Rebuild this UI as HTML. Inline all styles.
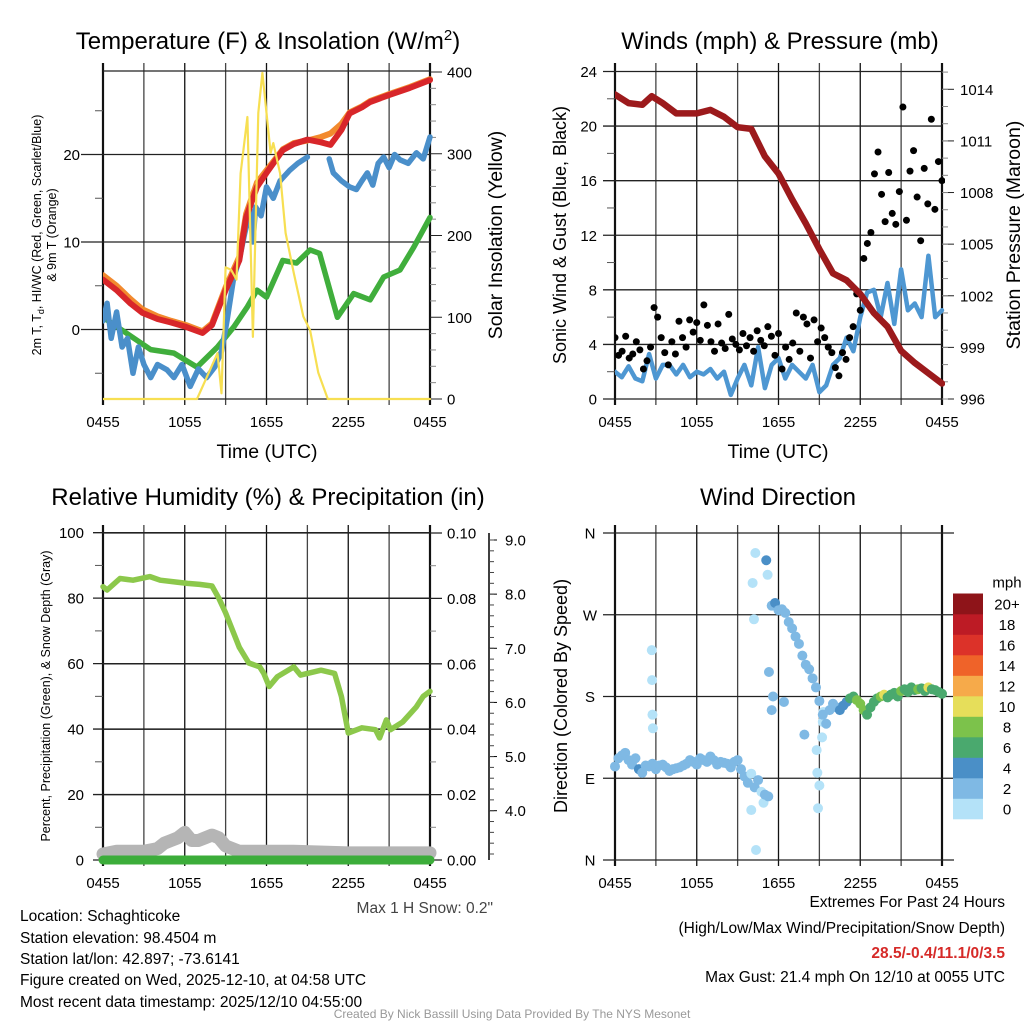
<!DOCTYPE html>
<html><head><meta charset="utf-8"><style>
html,body{margin:0;padding:0;background:#fff;}
svg{display:block;font-family:"Liberation Sans",Arial,sans-serif;}
</style></head><body>
<svg id="c" width="1024" height="1024" viewBox="0 0 1024 1024">
<rect width="1024" height="1024" fill="#fff"/>
<g font-size="24" text-anchor="middle" fill="#000">
<text x="268" y="49">Temperature (F) &amp; Insolation (W/m<tspan dy="-9" font-size="15">2</tspan><tspan dy="9">)</tspan></text>
<text x="780" y="49">Winds (mph) &amp; Pressure (mb)</text>
<text x="268" y="505">Relative Humidity (%) &amp; Precipitation (in)</text>
<text x="778" y="505">Wind Direction</text>
</g>
<g font-size="12.5" text-anchor="middle">
<text transform="translate(41,235) rotate(-90)">2m T, T<tspan dy="3" font-size="9">d</tspan><tspan dy="-3">, HI/WC (Red, Green, Scarlet/Blue)</tspan></text>
<text transform="translate(56,235) rotate(-90)">&amp; 9m T (Orange)</text>
<text transform="translate(50,696) rotate(-90)">Percent, Precipitation (Green), &amp; Snow Depth (Gray)</text>
</g>
<g font-size="19.5" text-anchor="middle">
<text transform="translate(502,235) rotate(-90)">Solar Insolation (Yellow)</text>
<text transform="translate(566,235) rotate(-90)" font-size="18">Sonic Wind &amp; Gust (Blue, Black)</text>
<text transform="translate(1020,235) rotate(-90)">Station Pressure (Maroon)</text>
<text transform="translate(567,696) rotate(-90)" font-size="18">Direction (Colored By Speed)</text>
<text x="267" y="458">Time (UTC)</text>
<text x="778" y="458">Time (UTC)</text>
</g>
<g font-size="15.5" fill="#000">
<text x="20" y="921">Location: Schaghticoke</text>
<text x="20" y="943">Station elevation: 98.4504 m</text>
<text x="20" y="964">Station lat/lon: 42.897; -73.6141</text>
<text x="20" y="985">Figure created on Wed, 2025-12-10, at 04:58 UTC</text>
<text x="20" y="1007">Most recent data timestamp: 2025/12/10 04:55:00</text>
<g text-anchor="end">
<text x="1005" y="907">Extremes For Past 24 Hours</text>
<text x="1005" y="933">(High/Low/Max Wind/Precipitation/Snow Depth)</text>
<text x="1005" y="958" fill="#d62a28" font-weight="bold">28.5/-0.4/11.1/0/3.5</text>
<text x="1005" y="982">Max Gust: 21.4 mph On 12/10 at 0055 UTC</text>
<text x="493" y="913" fill="#444">Max 1 H Snow: 0.2"</text>
</g>
</g>
<text x="512" y="1018" font-size="12" fill="#999" text-anchor="middle">Created By Nick Bassill Using Data Provided By The NYS Mesonet</text>
</svg>
<script>
// ---- data ----
const xTickLabels = ["0455","1055","1655","2255","0455"];
const tempHours = [0,1,2,2.9,4,5,6.1,7.3,8,9,10,10.5,11.3,12,13.2,14,15,16,16.7,17.5,18.1,19,19.6,21,22.5,24];
const tempRed   = [5.7,4.5,3,1.9,1.2,0.8,0.3,-0.4,0.5,4.5,7.9,12.8,16.3,17.9,20.5,21.2,21.7,21.4,21.1,22.8,24.7,25.4,26,26.8,27.6,28.5];
const tempOrange= [6.2,5,3.5,2.3,1.5,1,0.5,-0.2,0.7,4.8,8.3,13.2,16.8,18.2,20.6,21.3,21.6,22,22.4,23.5,24.8,25.5,26.1,26.9,27.7,28.6];
const chillHours = [0,0.3,0.6,1,1.4,1.8,2.2,2.6,3,3.5,4,4.7,5.2,5.8,6.4,7,7.6,8.2,8.7,9.1,9.6,10,10.4,10.8,11,11.2,11.6,12,12.5,13,13.7,14.3,15];
const chillBlue  = [1,3,-1,2,-2,-1,-5,-2,-4,-5.5,-4,-4.6,-5.5,-4,-6.5,-4.5,-5.5,-4.3,-2.5,1,6,8,11,13.6,10,14,13,16.3,15,17,18.2,19,19.7];
const chillHours2 = [16.6,16.9,17.5,18.1,18.6,19,19.4,19.8,20.2,20.6,21,21.4,21.8,22.4,23,23.5,24];
const chillBlue2  = [19.5,17.9,17,16.3,16,17,17.9,16.5,19,19.7,18.5,20,19.4,19,20.2,19.5,22];
const dewHours = [0,1.7,3.5,5.2,6.9,8.4,9.6,10.6,11.3,12,13.2,14.2,15.2,15.9,17.2,18.4,19.6,20.6,21.8,22.8,24];
const dewGreen = [1.4,-0.4,-2.3,-2.7,-4.3,-2,0.3,2.6,4.5,3.7,7.9,7.6,9.1,8.7,1.4,4.1,3.4,6,6.8,9.4,12.8];
const solarHours = [0,6.9,8.4,8.7,9,9.4,9.8,10.1,10.6,11,11.4,11.7,12,12.3,12.5,13,13.4,14,14.7,15.2,15.8,16.5,24];
const solarWm2   = [0,0,56,7,161,158,146,276,345,76,350,399,350,301,313,276,203,154,101,84,32,0,0];
const sonicWind = [2,1.6,2.4,1.5,1.3,3.3,1.5,2.5,2.5,1.8,2.5,1.6,2,1.8,2.2,1.5,2,0.3,1.5,2.5,1,3.8,0.8,2.5,3,1.5,2.5,2,1.5,2.5,0.5,1,2.5,3,4.5,3.5,6,7.8,8,6,8.5,5.5,9.5,6.5,7,6,10.5,6,6.5];
const gusts = [4.5,3.2,3.5,4.6,3,3.3,4.2,3.6,2.2,2.8,3.8,6.7,6,4.5,3.4,2.5,4.2,3.3,5.7,4.5,3.8,5.8,4.9,5.6,4.3,6.9,5.4,4.2,3.5,5.5,4.1,3.7,6.2,4.4,4.0,3.6,4.8,3.9,4.5,3.5,5.0,4.3,3.9,5.3,4.6,3.2,4.8,2.2,3.8,2.9,4.1,6.3,3.5,6.0,5.5,3.0,5.8,4.2,5.2,4.5,3.8,3.4,2.3,1.7,3.4,2.9,4.5,5.3,7.7,6.5,10.3,11.4,12.2,16.5,18.1,15.0,13.0,16.6,13.6,12.8,15.2,21.4,13.1,16.7,18.2,14.8,11.6,16.9,14.3,20.5,13.9,17.4,16.0];
const presHours = [0,1,2,2.7,3.5,4.5,5.5,6,7,8,9,10,11,12,13,14,15,16,17,18,19,20,21,22,23,24];
const pressure  = [1013.7,1013.2,1013.1,1013.6,1013.2,1012.6,1012.6,1012.6,1012.8,1012.4,1011.8,1011.7,1010.1,1009.1,1007.6,1006.2,1004.7,1003.3,1002.9,1002.1,1001,1000.2,998.8,998.1,997.5,996.9];
const rhHours = [0,0.3,1.25,2.2,3.45,4.2,5.4,6.2,7.1,8,8.5,9,10,10.7,11.5,11.8,12.2,12.8,14,14.5,16,17,17.5,18,19,20,20.3,20.8,21.1,22,23,23.5,24];
const rhPct   = [83.5,82.5,86,85.5,86.6,85.5,84.9,84.5,84.2,83.7,80,75.5,65,60.2,59,57,53,56,59,56.5,58,57,50,38.8,40.4,39.8,37.3,42.8,39.8,42.2,46.8,50,51.5];
const snowHours = [0,1,2,3,4,4.5,5,5.5,6,6.5,7,7.5,8,8.5,9,10,14,18,24];
const snowDepth = [3.2,3.25,3.25,3.25,3.3,3.4,3.45,3.5,3.6,3.45,3.45,3.5,3.55,3.5,3.35,3.25,3.25,3.22,3.22];
const precip = [0,0];
const dirs = [103,112,115,118,110,105,112,100,96,104,103,106,100,104,105,102,98,100,101,102,104,106,110,108,105,112,110,108,114,110,105,108,107,106,102,108,110,100,92,85,95,80,88,75,72,70,280,283,275,276,272,262,255,246,238,225,215,210,200,190,175,160,150,165,172,168,165,170,174,178,180,176,172,165,160,168,174,178,180,182,179,182,184,180,186,188,185,190,187,188,189,186,190,188,187,185,183];
const dirSpeeds = [2.5,2.5,3,2.5,2.5,2.5,2.5,4.5,2.5,2.5,3,2.5,2.5,2.5,2.5,2.5,2.5,2.5,2.5,2.5,3,2.5,2.5,2.5,2.5,3,2.5,2.5,2.5,2.5,3,2.5,2.5,2.5,3,2.5,2.5,2.5,2.5,2.5,1,2.5,2.5,1,2.5,2.5,2.5,4.5,3,2.5,3,2.5,3,2.5,2.5,3,2.5,2.5,2.5,2.5,2.5,3,2.5,2.5,2.5,3,4.5,4.5,4.5,6.5,7,8.5,9,8.5,7,6.5,7,7,8,10,7,6.5,7,7.5,8,7,7,6.5,7,8,7,7,10.5,7,7,6.5,7];
const outHours = [2.7,2.72,2.75,2.78,10.1,10.3,11.1,11.2,10.2,10,10.35,10.9,11.5,11.6,12.4,11.3,13.9,14.8,14.85,14.9,15,15.2,15.25,15.3];
const outDirs  = [231,198,160,145,305,338,330,314,265,55,11,63,165,180,174,207,138,121,96,57,82,135,152,163];
const outSpeeds= [1,1,1,1,1,1,4,1,1,1,1,1,2.5,2.5,2.5,2.5,2.5,1,1,1,1,1,1,1];
const legendLabels = ["0","2","4","6","8","10","12","14","16","18","20+"];
const speedColors = ["#b4e2f8","#7fb9e4","#4a8fc7","#4aa96e","#7cc24b","#e6de5a","#f6aa4a","#ef6329","#dc3229","#bd1b25","#8e1419"];
const dirTickLabels = ["N","E","S","W","N"];

// ---- helpers ----
const NS = "http://www.w3.org/2000/svg";
const svg = document.getElementById("c");
function mk(tag, parent) { const e = document.createElementNS(NS, tag); (parent||svg).appendChild(e); return e; }
function sa(e, k, v) { e.setAttribute(k, v); return e; }
const X0 = {L:103, R:615}, PW = 327;
function xs(panel, h) { return X0[panel] + h / 24 * PW; }
function lin(d0, d1, p0, p1) { return v => p0 + (v - d0) / (d1 - d0) * (p1 - p0); }

function frame(panel, top, bottom, name) {
  const g = mk("g");
  
  
  for (let i = 0; i <= 8; i++) {
    const x = X0[panel] + i * PW / 8;
    const l = mk("line", g); sa(l,"x1",x); sa(l,"x2",x); sa(l,"y1",top-8); sa(l,"y2",bottom+6);
    sa(l,"stroke", i%2 ? "#444" : "#111"); sa(l,"stroke-width", (i===0||i===8)?2.2:1.3);
  }
  for (let i = 0; i < xTickLabels.length; i++) {
    const t = mk("text", g);
    
    
    sa(t,"x", X0[panel] + i*PW/4); sa(t,"y", bottom+28); sa(t,"font-size","15"); sa(t,"text-anchor","middle");
    t.textContent = xTickLabels[i];
  }
  return g;
}
function hgrid(panel, y, extL, extR, g) {
  const l = mk("line", g); sa(l,"x1",X0[panel]-extL); sa(l,"x2",X0[panel]+PW+extR); sa(l,"y1",y); sa(l,"y2",y);
  sa(l,"stroke","#222"); sa(l,"stroke-width",1.3);
}
function ytext(g, x, y, txt, anchor, name, size) {
  const t = mk("text", g);
  
  
  sa(t,"x",x); sa(t,"y",y+5.5); sa(t,"font-size",size||15); sa(t,"text-anchor",anchor); t.textContent = txt;
}
function tick(g, x1, x2, y, col) { const l = mk("line", g); sa(l,"x1",x1); sa(l,"x2",x2); sa(l,"y1",y); sa(l,"y2",y); sa(l,"stroke",col||"#555"); sa(l,"stroke-width",1); }
function path(hours, vals, panel, ys, color, width, name) {
  const p = mk("path");
  
  
  let d = "";
  for (let i = 0; i < vals.length; i++) d += (i ? "L" : "M") + xs(panel, hours[i]).toFixed(1) + "," + ys(vals[i]).toFixed(1);
  sa(p,"d",d); sa(p,"fill","none"); sa(p,"stroke",color); sa(p,"stroke-width",width);
  sa(p,"stroke-linejoin","round"); sa(p,"stroke-linecap","round");
  return p;
}
function clip(id, x, y, w, h) {
  let defs = svg.querySelector("defs") || mk("defs");
  const cp = mk("clipPath", defs); sa(cp,"id",id);
  const r = mk("rect", cp); sa(r,"x",x); sa(r,"y",y); sa(r,"width",w); sa(r,"height",h);
}

// ---- Temperature panel ----
const tY = lin(0, 20, 329.5, 154.5), sY = lin(0, 400, 399, 72);
const gT = frame("L", 71, 399, "temp");
[0,10,20].forEach(v => { hgrid("L", tY(v), 22, 0, gT); ytext(gT, 80, tY(v), String(v), "end", "temp-y-tick-label"); });
[-5,5,15,25].forEach(v => tick(gT, 95, 103, tY(v)));
[0,100,200,300,400].forEach(v => { tick(gT, 430, 442, sY(v), "#222"); ytext(gT, 447, sY(v), String(v), "start", "solar-y-tick-label"); });
for (let v = 20; v < 400; v += 20) if (v % 100) tick(gT, 430, 436, sY(v), "#888");
hgrid("L", 71, 0, 0, gT); hgrid("L", 399, 0, 0, gT);
clip("cT", 103, 68, 330, 333);
const gTd = mk("g"); sa(gTd,"clip-path","url(#cT)");
 
gTd.appendChild(path(tempHours, tempOrange, "L", tY, "#f28a2e", 6, "orange-9m-temp-line"));
gTd.appendChild(path(dewHours, dewGreen, "L", tY, "#40ae3c", 5.5, "green-dewpoint-line"));
gTd.appendChild(path(chillHours, chillBlue, "L", tY, "#4a8fca", 5.5, "blue-windchill-line"));
gTd.appendChild(path(chillHours2, chillBlue2, "L", tY, "#4a8fca", 5.5, "blue-windchill-line-2"));
gTd.appendChild(path(tempHours, tempRed, "L", tY, "#d8262a", 6, "red-temp-line"));
gTd.appendChild(path(solarHours, solarWm2, "L", sY, "#f7df52", 2.2, "yellow-solar-line"));

// ---- Wind panel ----
const wY = lin(0, 24, 399, 71.5), pY = lin(996, 1014, 399, 89.3);
const gW = frame("R", 71, 399, "wind");
[0,4,8,12,16,20,24].forEach(v => { hgrid("R", wY(v), 12, 0, gW); ytext(gW, 597, wY(v), String(v), "end", "wind-y-tick-label"); });
[2,6,10,14,18,22].forEach(v => tick(gW, 607, 615, wY(v)));
[996,999,1002,1005,1008,1011,1014].forEach(v => { tick(gW, 942, 954, pY(v), "#222"); ytext(gW, 960, pY(v), String(v), "start", "pressure-y-tick-label"); });
for (let v = 996; v <= 1015; v++) tick(gW, 942, 948, pY(v), "#888");
clip("cW", 615, 68, 330, 333);
const gWd = mk("g"); sa(gWd,"clip-path","url(#cW)");
 
const sh = sonicWind.map((_, i) => i * 24 / (sonicWind.length - 1));
gWd.appendChild(path(sh, sonicWind, "R", wY, "#4e97d2", 4.5, "blue-sonic-wind-line"));
gusts.forEach((g, i) => {
  const c = mk("circle", gWd);
  
  
  sa(c,"cx", xs("R", i * 24 / (gusts.length - 1))); sa(c,"cy", wY(g)); sa(c,"r",3.5); sa(c,"fill","#000");
});
gWd.appendChild(path(presHours, pressure, "R", pY, "#9c1a1c", 6.5, "maroon-pressure-line"));

// ---- RH panel ----
const rY = lin(0, 100, 860, 532.7), qY = lin(0, 0.1, 860, 533), snY = lin(4, 9, 810.7, 540);
const gR = frame("L", 533, 860, "rh");
[0,20,40,60,80,100].forEach(v => { hgrid("L", rY(v), 10, 0, gR); ytext(gR, 84, rY(v), String(v), "end", "rh-y-tick-label"); });
[10,30,50,70,90].forEach(v => tick(gR, 95, 103, rY(v)));
[0,0.02,0.04,0.06,0.08,0.10].forEach(v => { hgrid("L", qY(v), 0, 12, gR); ytext(gR, 447, qY(v), v.toFixed(2), "start", "precip-y-tick-label"); });
for (let v = 0.01; v < 0.1; v += 0.02) tick(gR, 430, 436, qY(v), "#888");
const ax3 = mk("line", gR); sa(ax3,"x1",489); sa(ax3,"x2",489); sa(ax3,"y1",533); sa(ax3,"y2",860); sa(ax3,"stroke","#000"); sa(ax3,"stroke-width",1.5);
[4,5,6,7,8,9].forEach(v => { tick(gR, 489, 497, snY(v), "#000"); ytext(gR, 505, snY(v), v.toFixed(1), "start", "snow-y-tick-label"); });
for (let v = 3.2; v < 9.1; v += 0.2) tick(gR, 489, 494, snY(v), "#444");
clip("cR", 95, 525, 345, 345);
const gRd = mk("g"); sa(gRd,"clip-path","url(#cR)");
 
gRd.appendChild(path(snowHours, snowDepth, "L", snY, "#b5b5b5", 13, "gray-snow-depth-line"));
gRd.appendChild(path([0,24], precip, "L", qY, "#3cad3a", 9, "green-precip-line"));
gRd.appendChild(path(rhHours, rhPct, "L", rY, "#8cc84b", 5.5, "green-rh-line"));

// ---- Direction panel ----
const dY = lin(0, 360, 860, 533);
const gD = frame("R", 533, 860, "direction");
[0,90,180,270,360].forEach((v, i) => { hgrid("R", dY(v), 12, 12, gD); ytext(gD, 590, dY(v), dirTickLabels[i], "middle", "direction-y-tick-label"); });
function colorFor(s) { return speedColors[Math.min(10, Math.floor(s / 2))]; }
const gDd = mk("g");
 
function dot(h, d, s) {
  const c = mk("circle", gDd);
  
  
  sa(c,"cx", xs("R", h)); sa(c,"cy", dY(d)); sa(c,"r", 5); sa(c,"fill", colorFor(s));
}
outHours.forEach((h, i) => dot(h, outDirs[i], outSpeeds[i]));
dirs.forEach((d, i) => dot(i * 24 / (dirs.length - 1), d, dirSpeeds[i]));
// legend
const gL = mk("g");
 
ytext(gL, 1007, 582, "mph", "middle", "legend-title");
legendLabels.forEach((lab, i) => {
  const y = 819 - (i + 1) * 20.5;
  const r = mk("rect", gL);
  
  
  sa(r,"x",953); sa(r,"y",y); sa(r,"width",30); sa(r,"height",20.8); sa(r,"fill",speedColors[i]);
  ytext(gL, 1007, y + 10.3, lab, "middle", "legend-label");
});
</script>
</body></html>
